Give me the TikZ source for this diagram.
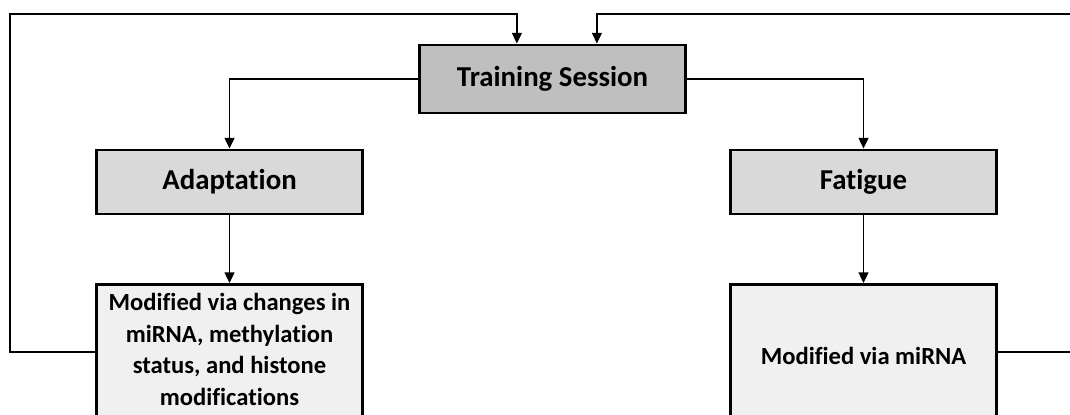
\documentclass[tikz,border=0pt]{standalone}
\usepackage{fontspec}
\setmainfont{Carlito}[Ligatures=CommonOff]
\usetikzlibrary{arrows.meta}
\tikzset{
  box/.style={draw, line width=2.1pt, minimum width=6.65cm, inner sep=0pt,
    align=center, font=\bfseries\fontsize{20.5}{24}\selectfont},
  modbox/.style={box, minimum height=3.55cm, fill=gray!12,
    font=\bfseries\fontsize{17.5}{22.5}\selectfont},
  link/.style={line width=1pt},
  arr/.style={link, -{Triangle[length=7.5pt, width=7pt]}}
}
\begin{document}
\begin{tikzpicture}[x=0.025cm, y=-0.025cm]
  \useasboundingbox (0,0) rectangle (1070,414);
  \clip (0,0) rectangle (1070,414);
  \node[box, fill=gray!50, minimum height=1.7cm] (train) at (552.5,79) {Training Session};
  \node[box, fill=gray!30, minimum height=1.6cm] (adapt) at (229.5,182) {Adaptation};
  \node[box, fill=gray!30, minimum height=1.6cm] (fatigue) at (863.5,182) {Fatigue};
  \node[modbox, anchor=north] (modadapt) at (229.5,283) {\\[-19pt]Modified via changes in\\miRNA, methylation\\status, and histone\\modifications};
  \node[modbox, anchor=north] (modfatigue) at (863.5,283) {Modified via miRNA};
  \coordinate (loopL) at (10,14);
  \coordinate (loopR) at (1085,14);
  \draw[arr] (train.west) -| (adapt.north);
  \draw[arr] (train.east) -| (fatigue.north);
  \draw[arr] (adapt.south) -- (modadapt.north);
  \draw[arr] (fatigue.south) -- (modfatigue.north);
  \draw[arr] (modadapt.west |- 0,352) -| (loopL) -| ([xshift=-0.89cm]train.north);
  \draw[arr] (modfatigue.east |- 0,352) -| (loopR) -| ([xshift=1.11cm]train.north);
\end{tikzpicture}
\end{document}
